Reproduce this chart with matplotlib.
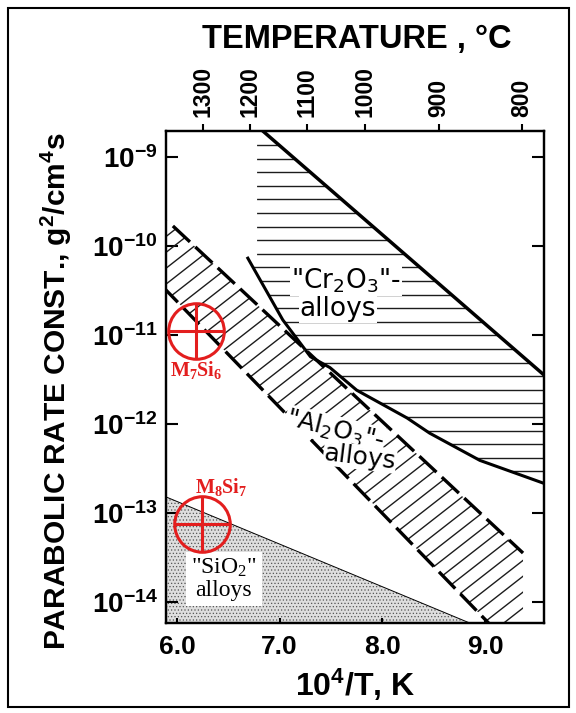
import numpy as np
import matplotlib
matplotlib.use("Agg")
import matplotlib.pyplot as plt
from matplotlib.patches import Polygon, Rectangle
from matplotlib.collections import LineCollection

plt.rcParams['font.family'] = ['Liberation Sans', 'DejaVu Sans']
plt.rcParams['hatch.linewidth'] = 0.5

# ---- axes scales -------------------------------------------------------
x_ticks = [6.0, 7.0, 8.0, 9.0]
x_tick_labels = ["6.0", "7.0", "8.0", "9.0"]
y_decades = [-9, -10, -11, -12, -13, -14]
temp_labels = ["1300", "1200", "1100", "1000", "900", "800"]
temp_tick_pos = [6.25, 6.71, 7.27, 7.83, 8.55, 9.36]

# ---- "Cr2O3"-forming alloys --------------------------------------------
cr_upper_x = [6.80, 9.60]
cr_upper_k = [2.13e-9, 3.35e-12]
cr_lower_x = [6.69, 7.03, 7.30, 7.49, 7.75, 8.24, 8.46, 8.95, 9.60]
cr_lower_k = [7.3e-11, 1.48e-11, 5.7e-12, 4.3e-12, 2.4e-12, 1.17e-12,
              7.9e-13, 3.9e-13, 2.1e-13]
cr_left = 6.78

# ---- "Al2O3"-forming alloys --------------------------------------------
al_upper_x = [5.96, 9.37]
al_upper_k = [1.68e-10, 3.55e-14]
al_lower_x = [5.85, 9.10]
al_lower_k = [3.6e-11, 4.85e-15]
al_right = 9.37

# ---- "SiO2"-forming alloys ---------------------------------------------
si_x = [5.85, 8.90]
si_k = [1.59e-13, 5.5e-15]

# ---- silicide measurements ---------------------------------------------
sil_names = [r"M$\mathregular{_7}$Si$\mathregular{_6}$",
             r"M$\mathregular{_8}$Si$\mathregular{_7}$"]
sil_x = [6.19, 6.24]
sil_k = [1.1e-11, 7.5e-14]
sil_label_offset = [(0, -28), (14, 27)]

RED = '#e31e1e'


def loglin(xs, ks, x):
    """Straight line in (x, log k) through the two end points."""
    lx = np.log10(ks)
    s = (lx[-1] - lx[0]) / (xs[-1] - xs[0])
    return 10 ** (lx[0] + s * (x - xs[0]))


fig = plt.figure(figsize=(5.76, 7.13), dpi=100)
ax = fig.add_axes([0.2882, 0.12623, 0.6562, 0.69074])
ax.set_yscale('log')
ax.set_xlim(5.893, 9.574)
ax.set_ylim(10 ** -14.236, 10 ** -8.702)
W, H = ax.bbox.width, ax.bbox.height

# ---- Cr2O3 band with horizontal hatching --------------------------------
cr_poly = ([(cr_left, loglin(cr_upper_x, cr_upper_k, cr_left)),
            (cr_upper_x[-1], cr_upper_k[-1])]
           + list(zip(cr_lower_x[::-1], cr_lower_k[::-1]))
           + [(cr_left, cr_lower_k[0])])
cr_patch = Polygon(cr_poly, closed=True, facecolor='none', edgecolor='none')
ax.add_patch(cr_patch)
ys = 1 - (14.5 + 13.6 * np.arange(60)) / H
ys = ys[ys > 0]
cr_hatch = LineCollection([[(0, y), (1, y)] for y in ys], transform=ax.transAxes,
                          colors='#1c1c1c', linewidths=1.0)
cr_hatch.set_clip_path(cr_patch)
ax.add_collection(cr_hatch)
cr_hatch.set_clip_box(ax.bbox)

ax.plot(cr_upper_x, cr_upper_k, color='black', lw=2.5, solid_capstyle='butt')
ax.plot(cr_lower_x, cr_lower_k, color='black', lw=2.2)

# ---- Al2O3 band with diagonal hatching ----------------------------------
xl = ax.get_xlim()
al_poly = [(xl[0] - 0.05, loglin(al_upper_x, al_upper_k, xl[0] - 0.05)),
           (al_right, loglin(al_upper_x, al_upper_k, al_right)),
           (al_right, loglin(al_lower_x, al_lower_k, al_right)),
           (xl[0] - 0.05, loglin(al_lower_x, al_lower_k, xl[0] - 0.05))]
al_patch = Polygon(al_poly, closed=True, facecolor='none', edgecolor='none')
ax.add_patch(al_patch)
ang = np.deg2rad(38)
d = np.array([np.cos(ang), np.sin(ang)])
n = np.array([-np.sin(ang), np.cos(ang)])
L = W + H
segs = []
for c in np.arange(-L, L, 12.5):
    p0 = c * n - L * d
    p1 = c * n + L * d
    segs.append([(p0[0] / W, p0[1] / H), (p1[0] / W, p1[1] / H)])
al_hatch = LineCollection(segs, transform=ax.transAxes, colors='#1c1c1c',
                          linewidths=1.0)
al_hatch.set_clip_path(al_patch)
ax.add_collection(al_hatch)
al_hatch.set_clip_box(ax.bbox)

dash = (0, (7, 2.2))
ax.plot(al_upper_x, al_upper_k, color='black', lw=2.4, linestyle=dash)
ax.plot(al_lower_x, al_lower_k, color='black', lw=2.4, linestyle=dash)

# ---- SiO2 region: stippled --------------------------------------------
si_poly = [(si_x[0], si_k[0]), (si_x[1], si_k[1]), (si_x[1], 1e-16), (si_x[0], 1e-16)]
ax.add_patch(Polygon(si_poly, closed=True, facecolor='#dedede', edgecolor='#555555',
                     hatch='.....', linewidth=0, zorder=1))
ax.plot(si_x, si_k, color='black', lw=0.7)

# ---- region labels ----------------------------------------------------
ax.text(0.476, 0.694, r'"Cr$\mathregular{_2}$O$\mathregular{_3}$"-', transform=ax.transAxes,
        ha='center', va='center', family='DejaVu Sans', fontsize=19, fontweight='normal',
        bbox=dict(facecolor='white', edgecolor='none', pad=0.5), zorder=5)
ax.text(0.455, 0.6376, 'alloys', transform=ax.transAxes,
        ha='center', va='center', family='DejaVu Sans', fontsize=19, fontweight='normal',
        bbox=dict(facecolor='white', edgecolor='none', pad=0.5), zorder=5)
ax.text(0.447, 0.392, r'"Al$\mathregular{_2}$O$\mathregular{_3}$"-', transform=ax.transAxes,
        ha='center', va='center', family='DejaVu Sans', fontsize=18, fontweight='normal',
        rotation=-14, bbox=dict(facecolor='white', edgecolor='none', pad=0.3), zorder=5)
ax.text(0.513, 0.337, 'alloys', transform=ax.transAxes,
        ha='center', va='center', family='DejaVu Sans', fontsize=18, fontweight='normal',
        rotation=-7, bbox=dict(facecolor='white', edgecolor='none', pad=0.3), zorder=5)
ax.text(0.153, 0.0893, '"SiO$\\mathregular{_2}$"\nalloys', transform=ax.transAxes,
        ha='center', va='center', family='Liberation Serif', fontsize=17,
        fontweight='normal', linespacing=1.05,
        bbox=dict(facecolor='white', edgecolor='none', pad=3.5), zorder=5)

# ---- silicide points ----------------------------------------------------
for name, x, k, off in zip(sil_names, sil_x, sil_k, sil_label_offset):
    ax.plot([x], [k], marker='o', ms=40, mfc='none', mec=RED, mew=2.2, zorder=6)
    ax.plot([x], [k], marker='+', ms=40, mec=RED, mew=2.2, zorder=6)
    ax.annotate(name, (x, k), xytext=off, textcoords='offset points',
                ha='center', va='center', color=RED, family='Liberation Serif',
                fontsize=14.5, fontweight='bold', zorder=7)

# ---- axes styling -----------------------------------------------------
for s in ax.spines.values():
    s.set_linewidth(1.6)
ax.set_xticks(x_ticks, x_tick_labels)
ax.set_yticks([10.0 ** e for e in y_decades],
              [r'$\mathregular{10^{%d}}$' % e for e in y_decades])
ax.yaxis.set_minor_locator(matplotlib.ticker.NullLocator())
ax.tick_params(axis='y', which='major', direction='in', length=8.6, width=1.5,
               left=True, right=True, labelsize=20, pad=6.0)
ax.tick_params(axis='x', which='major', direction='in', length=3.6, width=1.5,
               labelsize=19, pad=8.6, top=False)
for lab in ax.get_xticklabels() + ax.get_yticklabels():
    lab.set_fontweight('bold')

ax.set_xlabel(r'10$\mathregular{^4}$/T, K', fontsize=23, fontweight='bold', va='center')
ax.xaxis.set_label_coords(0.5, -0.1259)
ax.set_ylabel(r'PARABOLIC RATE CONST., g$\mathregular{^2}$/cm$\mathregular{^4}$s',
              fontsize=21.5, fontweight='bold', va='center')
ax.yaxis.set_label_coords(-0.291, 0.471)

ax2 = ax.twiny()
ax2.set_xlim(ax.get_xlim())
ax2.set_xticks(temp_tick_pos, temp_labels, rotation=90, fontsize=16.5,
               fontweight='bold')
ax2.tick_params(axis='x', direction='out', length=5, width=1.5, pad=5)
for s in ax2.spines.values():
    s.set_linewidth(1.6)
ax2.set_xlabel('TEMPERATURE , °C', fontsize=23.5, fontweight='bold', va='center')
ax2.xaxis.set_label_coords(0.505, 1.1838)

# outer frame
fig.add_artist(Rectangle((7.5 / 576, 6 / 713), (569 - 7.5) / 576, (706 - 7.5) / 713,
                         transform=fig.transFigure, fill=False, edgecolor='black',
                         linewidth=1.5))

fig.savefig('out.png', dpi=100)
